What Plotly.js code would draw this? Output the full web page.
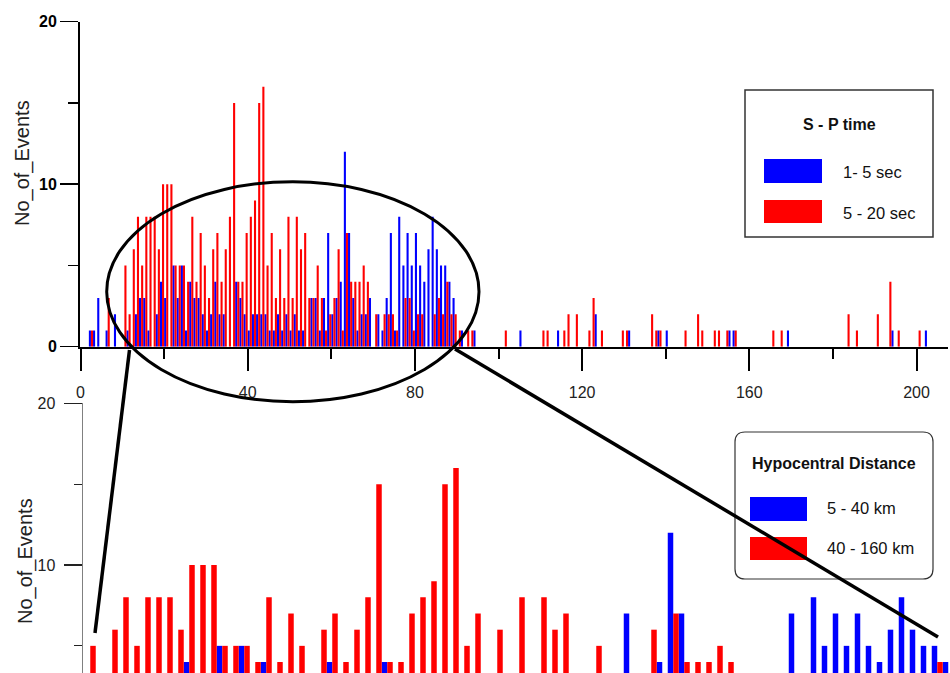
<!DOCTYPE html>
<html>
<head>
<meta charset="utf-8">
<script src="https://cdn.plot.ly/plotly-3.0.1.min.js"></script>
<style>html,body{margin:0;padding:0;background:#fff;}#chart{width:950px;height:673px;}</style>
</head>
<body>
<div id="chart"></div>
<script>
// ---- data (bin = upper edge of 1-unit bin on x axis) ----
const distance = [3,4,5,7,9,11,12,13,14,15,16,17,18,19,20,21,22,23,24,25,26,27,28,29,30,
  31,32,33,34,35,36,37,38,39,40,41,42,43,44,45,46,47,48,49,50,51,52,53,54,55,56,57,58,59,60,
  61,62,63,64,65,66,67,68,69,70,71,72,73,74,75,76,77,78,79,80,81,82,83,84,85,86,87,88,89,90,
  91,92,93,94,95,102,106,111,112,115,116,117,119,122,123,124,125,130,131,132,137,138,139,141,
  145,148,149,152,153,155,156,157,166,168,170,184,186,191,194,195,196,201,203];
const sp1to5 = [1,1,3,1,2,0,1,0,2,3,3,1,0,2,4,3,0,5,3,5,1,4,3,3,2,
  1,2,4,2,2,0,0,4,3,2,1,2,2,2,2,1,1,2,1,2,1,2,1,1,0,3,3,1,3,7,
  2,3,4,12,7,3,1,2,2,3,0,2,1,3,7,1,8,5,7,5,7,5,4,6,8,6,5,5,4,3,
  0,1,0,0,1,0,1,0,0,1,0,0,0,0,0,2,0,0,0,1,0,0,1,1,
  0,0,0,0,0,0,1,1,0,0,1,0,0,0,0,1,0,0,1];
const sp5to20 = [1,0,0,3,0,5,2,6,8,5,8,8,8,6,10,10,10,5,5,5,4,8,4,7,5,
  3,6,7,4,6,8,15,4,4,7,8,9,15,16,5,7,3,6,3,8,3,8,6,7,3,3,5,3,1,2,
  3,6,1,7,4,4,4,5,4,0,2,0,2,2,2,1,0,3,3,1,2,2,0,0,2,3,2,4,2,2,
  1,0,1,1,0,1,0,1,1,0,1,2,2,1,3,0,1,1,1,0,2,1,1,0,
  1,2,1,1,1,1,0,1,1,1,0,2,1,2,4,0,1,1,0];
const xTicks = [0,40,80,120,160,200];
const yTicks = [0,10,20];
const y2Ticks = [10,20];
const seriesNames = ['1- 5 sec','5 - 20 sec'];
const distNames = ['5 - 40 km','40 - 160 km'];

// ---- helpers (pixel -> paper) ----
const W = 950, H = 673;
const px = v => v / W;
const py = v => 1 - v / H;
const BLUE = '#0000ff', RED = '#ff0000';
const FONT = 'Liberation Sans, Arial, sans-serif';

function barTrace(y, color, offset, xa, ya, name) {
  return {type:'bar', x: distance, y: y, xaxis: xa, yaxis: ya, name: name,
    offset: offset, width: 0.5, marker:{color: color, line:{width:0}},
    hoverinfo:'x+y'};
}

const data = [
  barTrace(sp1to5, BLUE, -1, 'x', 'y', seriesNames[0]),
  barTrace(sp5to20, RED, -0.5, 'x', 'y', seriesNames[1]),
  barTrace(sp1to5, BLUE, -1, 'x2', 'y2', distNames[0]),
  barTrace(sp5to20, RED, -0.5, 'x2', 'y2', distNames[1])
];

function rect(x0,y0,x1,y1,fill,lineColor,lw){
  return {type:'rect', xref:'paper', yref:'paper', x0:px(x0), x1:px(x1), y0:py(y1), y1:py(y0),
    fillcolor: fill, line:{color: lineColor || fill, width: lw===undefined?0:lw}};
}
function roundRect(x0,y0,x1,y1,r,lineColor,lw){
  const rx = r/W, ry = r/H;
  const X0=px(x0), X1=px(x1), Y0=py(y0), Y1=py(y1);
  const p = `M ${X0+rx},${Y0} L ${X1-rx},${Y0} Q ${X1},${Y0} ${X1},${Y0-ry} L ${X1},${Y1+ry} Q ${X1},${Y1} ${X1-rx},${Y1} L ${X0+rx},${Y1} Q ${X0},${Y1} ${X0},${Y1+ry} L ${X0},${Y0-ry} Q ${X0},${Y0} ${X0+rx},${Y0} Z`;
  return {type:'path', xref:'paper', yref:'paper', path:p, fillcolor:'#ffffff', line:{color:lineColor, width:lw}};
}
function line(x0,y0,x1,y1,w){
  return {type:'line', xref:'paper', yref:'paper', x0:px(x0), y0:py(y0), x1:px(x1), y1:py(y1), line:{color:'#000', width:w}};
}
function txt(s,x,y,opt){
  return Object.assign({text:s, xref:'paper', yref:'paper', x:px(x), y:py(y), showarrow:false,
    xanchor:'left', yanchor:'middle', font:{family:FONT, size:16, color:'#111'}}, opt||{});
}

const shapes = [
  rect(745,90,933,237,'#ffffff','#333',1.5),
  rect(764,159,822,183,BLUE),
  rect(764,200,822,223,RED),
  roundRect(735,432,933,579,10,'#333',1.2),
  rect(750,497,807,521,BLUE),
  rect(750,537,807,560,RED),
  {type:'circle', xref:'paper', yref:'paper', x0:px(106.7), x1:px(479), y0:py(401.7), y1:py(181.7), line:{color:'#000', width:3}},
  line(95,633,129.5,350,3.5),
  line(455,349,938,637,3.5)
];

const annotations = [
  txt('No_of_Events', 22, 163, {textangle:-90, xanchor:'center', font:{family:FONT, size:20, color:'#222'}}),
  txt('No_of_Events', 25, 561, {textangle:-90, xanchor:'center', font:{family:FONT, size:20, color:'#222'}}),
  txt('S - P time', 839, 124, {xanchor:'center', font:{family:FONT, size:16, color:'#111', weight:'bold'}}),
  txt(seriesNames[0], 841, 172, {font:{family:FONT, size:16.5, color:'#111'}}),
  txt(seriesNames[1], 841, 213, {font:{family:FONT, size:16.5, color:'#111'}}),
  txt('Hypocentral Distance', 834, 463, {xanchor:'center', font:{family:FONT, size:16, color:'#111', weight:'bold'}}),
  txt(distNames[0], 825, 508, {font:{family:FONT, size:16.5, color:'#111'}}),
  txt(distNames[1], 825, 548, {font:{family:FONT, size:16.5, color:'#111'}})
];

const layout = {
  width: W, height: H,
  margin:{l:0,r:0,t:0,b:0,pad:0},
  paper_bgcolor:'#ffffff', plot_bgcolor:'rgba(0,0,0,0)',
  showlegend:false, barmode:'overlay',
  xaxis:{domain:[px(79.5), px(948)], range:[(79.5-80.5)/4.18, (948-80.5)/4.18], anchor:'y',
    showline:true, linecolor:'#000', linewidth:2, showgrid:false, zeroline:false,
    ticks:'outside', ticklen:22, tickwidth:2, tickcolor:'#000',
    tickmode:'array', tickvals:xTicks, ticktext:xTicks.map(String),
    minor:{tickmode:'linear', tick0:0, dtick:20, ticks:'outside', ticklen:10, tickwidth:2, tickcolor:'#000'},
    tickfont:{family:FONT, size:16, color:'#222'}, ticklabelstandoff:8},
  yaxis:{domain:[py(346.7), py(21.7)], range:[0,20], anchor:'x',
    showline:true, linecolor:'#000', linewidth:1.5, showgrid:false, zeroline:false,
    ticks:'outside', ticklen:18, tickwidth:1.5, tickcolor:'#000',
    tickmode:'array', tickvals:yTicks, ticktext:yTicks.map(String),
    minor:{tickmode:'linear', tick0:0, dtick:5, ticks:'outside', ticklen:10, tickwidth:1.5, tickcolor:'#000'},
    tickfont:{family:FONT, size:16, color:'#000', weight:'bold'}, ticklabelstandoff:4.5},
  xaxis2:{domain:[px(83), 1], range:[10.75-10/11, 10.75+(950-93)/11], anchor:'y2', visible:false},
  yaxis2:{domain:[0, py(403.3)], range:[10-(673-565)/16.17, 20], anchor:'x2',
    showline:true, linecolor:'#808080', linewidth:1.5, showgrid:false, zeroline:false,
    ticks:'outside', ticklen:18, tickwidth:1.2, tickcolor:'#222',
    tickmode:'array', tickvals:y2Ticks, ticktext:y2Ticks.map(String),
    minor:{tickmode:'linear', tick0:0, dtick:5, ticks:'outside', ticklen:8, tickwidth:1.2, tickcolor:'#222'},
    tickfont:{family:FONT, size:16, color:'#222'}, ticklabelstandoff:5},
  shapes: shapes,
  annotations: annotations
};

Plotly.newPlot('chart', data, layout, {displayModeBar:false, staticPlot:true});
</script>
</body>
</html>
